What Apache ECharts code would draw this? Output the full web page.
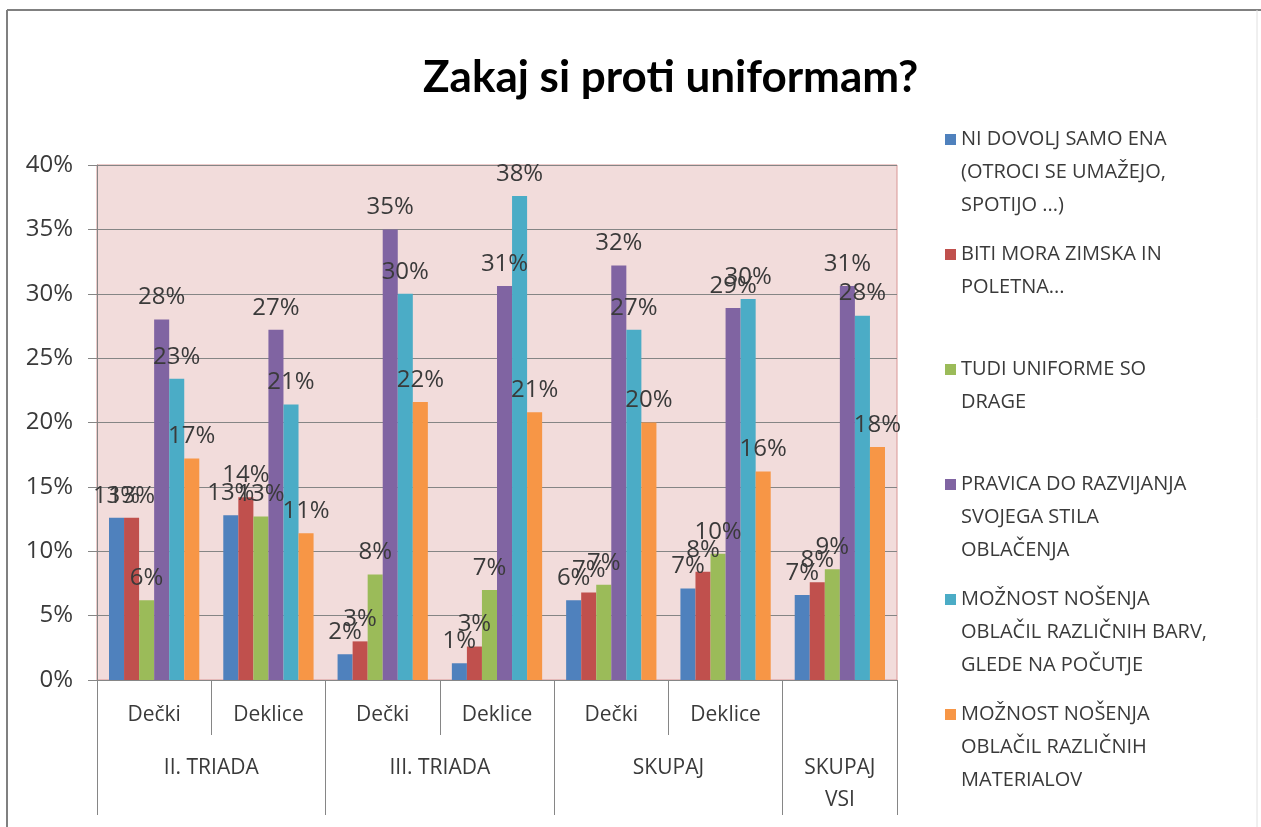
<!DOCTYPE html>
<html>
<head>
<meta charset="utf-8">
<script src="https://cdn.jsdelivr.net/npm/echarts@6/dist/echarts.min.js"></script>
<style>html,body{margin:0;padding:0;background:#fff;}#c{width:1261px;height:827px;}</style>
</head>
<body>
<div id="c"></div>
<script>
const titleText = 'Zakaj si proti uniformam?';
const categories = ['Dečki', 'Deklice', 'Dečki', 'Deklice', 'Dečki', 'Deklice', ''];
const groupLabels = ['II. TRIADA', 'III. TRIADA', 'SKUPAJ', 'SKUPAJ\nVSI'];
const seriesNames = [
  'NI DOVOLJ SAMO ENA\n(OTROCI SE UMAŽEJO,\nSPOTIJO ...)',
  'BITI MORA ZIMSKA IN\nPOLETNA...',
  'TUDI UNIFORME SO\nDRAGE',
  'PRAVICA DO RAZVIJANJA\nSVOJEGA STILA\nOBLAČENJA',
  'MOŽNOST NOŠENJA\nOBLAČIL RAZLIČNIH BARV,\nGLEDE NA POČUTJE',
  'MOŽNOST NOŠENJA\nOBLAČIL RAZLIČNIH\nMATERIALOV'
];
const niDovolj   = [12.6, 12.8, 2.0, 1.3, 6.2, 7.1, 6.6];
const zimska     = [12.6, 14.2, 3.0, 2.6, 6.8, 8.4, 7.6];
const drage      = [6.2, 12.7, 8.2, 7.0, 7.4, 9.8, 8.6];
const stil       = [28.0, 27.2, 35.0, 30.6, 32.2, 28.9, 30.6];
const barve      = [23.4, 21.4, 30.0, 37.6, 27.2, 29.6, 28.3];
const materiali  = [17.2, 11.4, 21.6, 20.8, 20.0, 16.2, 18.1];
const yTicks = [0, 5, 10, 15, 20, 25, 30, 35, 40];

const colors = ['#4F81BD', '#C0504D', '#9BBB59', '#8064A2', '#4BACC6', '#F79646'];
const allValues = [niDovolj, zimska, drage, stil, barve, materiali];

// group axis: 15 points across the category span (boundaryGap false)
const groupSlots = Array.from({length: 15}, (_, i) => String(i));
const groupPos = {2: groupLabels[0], 6: groupLabels[1], 10: groupLabels[2], 13: groupLabels[3]};
const groupTicks = [0, 4, 8, 12, 14];

const FONT = 'Open Sans';
const txt = '#3a3a3a';

const chart = echarts.init(document.getElementById('c'), null, {renderer: 'canvas'});
const pad3 = s => { const n = s.split('\n').length; return s + '\n '.repeat(3 - n); };

const option = {
  backgroundColor: '#ffffff',
  animation: false,
  title: {
    text: titleText,
    left: 418, top: 51,
    textStyle: {fontFamily: 'Lato', fontWeight: 'bold', fontSize: 44, color: '#000'}
  },
  legend: {
    orient: 'vertical',
    left: 940, top: 118,
    itemWidth: 11, itemHeight: 99, itemGap: 16,
    icon: 'path://M0,0h0.01v0.01h-0.01z M0,11h11v11h-11z M0,98.99h0.01v0.01h-0.01z',
    formatter: name => pad3(name),
    textStyle: {fontFamily: FONT, fontSize: 20, color: txt, lineHeight: 33},
    data: seriesNames
  },
  grid: {
    left: 97, right: 364, top: 165, bottom: 147,
    show: true, backgroundColor: '#F2DCDB', borderColor: '#D99694', borderWidth: 1
  },
  xAxis: [
    {
      type: 'category', data: categories, position: 'bottom',
      axisLine: {show: true, lineStyle: {color: '#868686'}},
      axisTick: {show: true, length: 55, lineStyle: {color: '#868686'}},
      axisLabel: {fontFamily: FONT, fontSize: 21, color: txt, margin: 19, lineHeight: 32, interval: 0}
    },
    {
      type: 'category', data: groupSlots, position: 'bottom', offset: 55, boundaryGap: false,
      axisLine: {show: false},
      axisTick: {show: true, length: 80, interval: (i) => groupTicks.includes(i), lineStyle: {color: '#868686'}},
      axisLabel: {fontFamily: FONT, fontSize: 21, color: txt, margin: 17, lineHeight: 32, interval: 0,
                  formatter: (v) => groupPos[+v] || ''}
    }
  ],
  yAxis: {
    type: 'value', min: yTicks[0], max: yTicks[yTicks.length - 1], interval: 5,
    axisLine: {show: true, lineStyle: {color: '#868686'}},
    axisTick: {show: true, length: 9, lineStyle: {color: '#868686'}},
    splitLine: {show: true, lineStyle: {color: '#858585', width: 1}},
    axisLabel: {fontFamily: FONT, fontSize: 24, color: txt, margin: 24, formatter: '{value}%'}
  },
  series: seriesNames.map((n, i) => ({
    name: n, type: 'bar', xAxisIndex: 0,
    data: allValues[i],
    itemStyle: {color: colors[i]},
    barGap: '0%', barCategoryGap: '21%',
    label: {
      show: true, position: 'top', distance: 10,
      fontFamily: FONT, fontSize: 24, color: txt,
      formatter: p => Math.round(p.value) + '%'
    }
  })),
  graphic: [
    {type: 'line', shape: {x1: 7, y1: 10, x2: 7, y2: 827}, style: {stroke: '#808080', lineWidth: 2}, silent: true},
    {type: 'line', shape: {x1: 7, y1: 10, x2: 1261, y2: 10}, style: {stroke: '#808080', lineWidth: 2}, silent: true},
    {type: 'line', shape: {x1: 1257, y1: 10, x2: 1257, y2: 827}, style: {stroke: '#e0e0e0', lineWidth: 1}, silent: true}
  ]
};
chart.setOption(option);
</script>
</body>
</html>
